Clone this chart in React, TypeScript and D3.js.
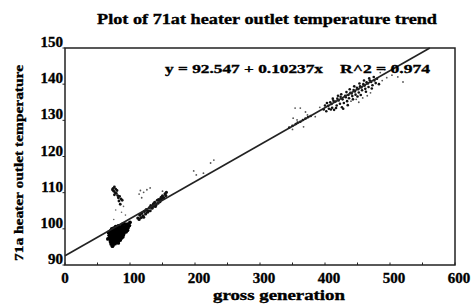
import React from "react";
import * as d3 from "d3";

// fitted trend line
const intercept = 92.547;
const slope = 0.10237;

const xTicks = [0, 100, 200, 300, 400, 500, 600];
const xMinorTicks = [50, 150, 250, 350, 450, 550];
const yTicks = [90, 100, 110, 120, 130, 140, 150];

// [gross generation, temperature]
const lowBlob: [number, number][] = [
  [88, 101.2], [91, 101.4], [94, 101.0], [96, 101.3],
  [78, 100.6], [82, 100.8], [85, 100.5], [88, 100.7], [91, 100.4], [94, 100.6], [97, 100.3],
  [72, 100.0], [75, 100.2], [78, 99.9], [81, 100.1], [84, 99.8], [87, 100.0], [90, 99.7], [93, 99.9], [96, 99.6],
  [70, 99.4], [73, 99.2], [76, 99.5], [79, 99.3], [82, 99.4], [85, 99.1], [88, 99.3], [91, 99.0], [94, 99.2],
  [69, 98.8], [72, 98.6], [75, 98.9], [78, 98.7], [81, 98.8], [84, 98.5], [87, 98.7], [90, 98.4],
  [68, 98.2], [71, 98.0], [74, 98.3], [77, 98.1], [80, 98.2], [83, 97.9], [86, 98.1], [89, 97.8],
  [69, 97.6], [72, 97.4], [75, 97.7], [78, 97.5], [81, 97.6], [84, 97.3], [87, 97.5],
  [70, 97.0], [73, 96.8], [76, 97.1], [79, 96.9], [82, 96.7], [85, 96.9],
  [70, 96.4], [73, 96.2], [76, 96.5], [79, 96.3], [82, 96.1],
  [71, 95.8], [74, 95.6], [77, 95.9],
  [66, 97.2], [67, 99.0], [99, 100.9], [100, 101.8], [73, 95.2],
];

const lowOutliers: [number, number][] = [
  [74, 111.2], [76, 111.6], [78, 111.0], [75, 110.4], [77, 110.0], [80, 110.6],
  [79, 109.8], [73, 110.8], [76, 109.4], [81, 109.2], [82, 108.6], [84, 109.0],
  [86, 108.3], [83, 107.7], [88, 107.9], [85, 106.8],
];

const lowStray: [number, number][] = [
  [90, 106.2], [78, 105.2], [87, 104.6], [75, 102.6], [93, 103.8],
];

const midBand: [number, number][] = [
  [112, 103.0], [114, 102.6], [115, 103.8], [117, 103.1], [118, 104.3], [120, 103.6],
  [121, 103.2], [122, 104.8], [124, 104.1], [125, 105.3], [127, 104.6], [128, 105.0],
  [130, 105.9], [131, 105.0], [132, 106.4], [134, 105.7], [135, 106.2], [136, 106.9],
  [138, 107.3], [139, 106.2], [140, 106.6], [142, 107.9], [143, 107.1], [144, 108.1],
  [146, 107.5], [147, 108.2], [148, 108.7], [150, 109.1], [151, 108.4], [152, 108.6],
  [154, 109.7], [155, 109.2], [156, 110.1],
];

const midOutliers: [number, number][] = [
  [114, 109.6], [116, 110.6], [118, 108.6], [121, 110.1], [126, 110.8], [131, 111.3],
  [150, 110.4], [198, 116.0], [202, 114.9], [213, 115.4], [224, 118.2], [229, 119.0],
];

const highBand: [number, number][] = [
  [345, 128.0], [350, 128.5], [355, 129.0], [358, 129.4], [362, 129.6], [366, 130.1],
  [370, 130.5], [374, 130.9], [378, 131.2],
  [398, 133.0], [400, 134.1], [402, 132.5], [405, 134.0], [406, 133.2], [408, 135.0],
  [410, 134.5], [411, 133.5], [413, 135.4], [414, 132.9], [416, 135.2], [418, 134.1],
  [419, 136.0], [421, 135.5], [423, 134.6], [424, 136.5], [426, 133.6], [427, 135.8],
  [429, 134.8], [431, 136.8], [432, 136.4], [434, 135.3], [436, 137.0], [437, 136.1],
  [439, 137.6], [441, 137.4], [442, 136.7], [444, 138.4], [446, 138.0], [447, 137.1],
  [449, 139.0], [451, 138.6], [452, 137.7], [454, 139.4], [456, 139.1], [457, 138.3],
  [459, 140.0], [461, 139.6], [462, 138.7], [464, 140.5], [466, 140.2], [467, 139.2],
  [469, 141.0], [471, 140.6], [473, 139.7], [476, 141.0], [478, 140.3],
  [403, 134.8], [409, 133.0], [412, 136.0], [417, 133.4], [420, 136.8], [425, 137.2],
  [428, 133.2], [433, 137.8], [435, 134.2], [438, 138.6], [443, 135.8], [445, 139.4],
  [450, 136.6], [453, 140.2], [455, 137.0], [460, 141.0], [463, 137.9], [468, 141.6],
  [472, 138.8], [475, 142.0], [480, 141.5], [483, 140.0],
];

const highOutliers: [number, number][] = [
  [351, 130.6], [354, 133.4], [357, 130.1], [362, 133.4], [367, 128.2], [370, 132.3],
  [373, 131.5], [350, 127.5], [385, 131.0], [392, 133.6], [440, 135.3], [448, 135.8],
  [452, 135.0], [458, 136.2], [465, 136.8], [470, 137.6], [488, 141.0], [495, 141.8],
  [503, 142.5], [512, 142.0], [518, 143.2], [485, 143.2], [492, 144.0], [520, 140.6],
];

const W = 473;
const H = 307;
const font = "'Liberation Serif', 'Times New Roman', serif";

export default function App() {
  const x = d3.scaleLinear().domain([0, 600]).range([65, 455]);
  const y = d3.scaleLinear().domain([90, 150]).range([265, 48]);

  // clip the fit line to the frame
  const xEnd = Math.min(600, (150 - intercept) / slope);
  const fitLine = d3.line<number>()
    .x(d => x(d))
    .y(d => y(intercept + slope * d))([0, xEnd]);

  const dots = (pts: [number, number][], r: number, fill: string, key: string) =>
    pts.map((p, i) => (
      <circle key={key + i} cx={x(p[0])} cy={y(p[1])} r={r} fill={fill} />
    ));

  return (
    <svg width={W} height={H} style={{ position: "absolute", left: 0, top: 0, background: "#fff" }}
      fontFamily={font} fontWeight="bold" stroke="none">
      <g stroke="#000" strokeWidth={0.35}>
        <text x={97} y={24} fontSize={15} textLength={340} lengthAdjust="spacingAndGlyphs">
          Plot of 71at heater outlet temperature trend
        </text>
        {xTicks.map(t => (
          <text key={"xl" + t} x={x(t) + (t === 0 ? 0 : 4)} y={283} fontSize={15} textAnchor="middle">{t}</text>
        ))}
        {yTicks.map(t => (
          <text key={"yl" + t} x={63} y={y(t) - 1} fontSize={15} textAnchor="end">{t}</text>
        ))}
        <text x={279} y={300} fontSize={14} textAnchor="middle" textLength={132} lengthAdjust="spacingAndGlyphs">
          gross generation
        </text>
        <text transform="translate(23,163) rotate(-90)" fontSize={13} textAnchor="middle"
          textLength={196} lengthAdjust="spacingAndGlyphs">
          71a heater outlet temperature
        </text>
      </g>

      {/* frame */}
      <rect x={x(0)} y={y(150)} width={x(600) - x(0)} height={y(90) - y(150)}
        fill="none" stroke="#222" strokeWidth={1.5} />

      {/* ticks */}
      {xMinorTicks.concat(xTicks).map(t => (
        <line key={"xt" + t} x1={x(t)} x2={x(t)} y1={y(90)} y2={y(90) - 2.5} stroke="#222" strokeWidth={1} />
      ))}
      {yTicks.map(t => (
        <line key={"yt" + t} x1={x(0) - 2.5} x2={x(0)} y1={y(t)} y2={y(t)} stroke="#222" strokeWidth={1} />
      ))}

      {/* points */}
      {dots(lowBlob, 1.9, "#000", "lb")}
      {dots(lowOutliers, 1.4, "#111", "lo")}
      {dots(lowStray, 0.8, "#666", "ls")}
      {dots(midBand, 1.6, "#111", "mb")}
      {dots(midOutliers, 0.9, "#555", "mo")}
      {dots(highBand, 1.3, "#111", "hb")}
      {dots(highOutliers, 0.9, "#555", "ho")}

      <path d={fitLine || ""} fill="none" stroke="#222" strokeWidth={1.6} />

      <g stroke="#000" strokeWidth={0.35}>
        <text x={165} y={73} fontSize={13} textLength={158} lengthAdjust="spacingAndGlyphs">
          y = 92.547 + 0.10237x
        </text>
        <text x={340} y={73} fontSize={13} textLength={90} lengthAdjust="spacingAndGlyphs">
          R^2 = 0.974
        </text>
      </g>
    </svg>
  );
}
